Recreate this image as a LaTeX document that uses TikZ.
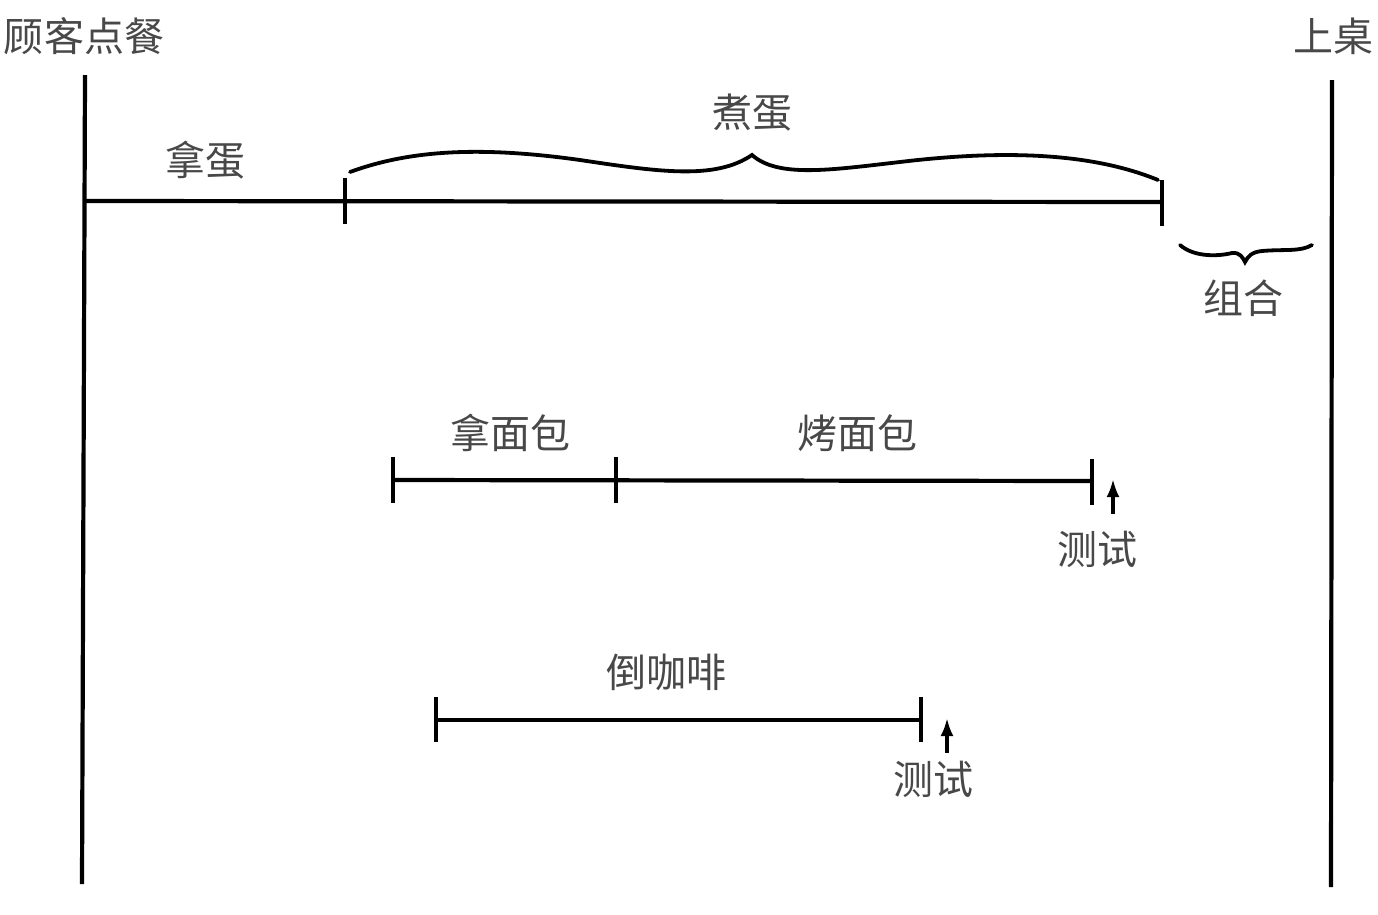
\documentclass[tikz,border=0pt]{standalone}
\usepackage{fontspec}
\newfontfamily\cjk{Noto Sans CJK SC}
\usetikzlibrary{arrows.meta}
\definecolor{txtgray}{HTML}{484848}
\tikzset{
  lbl/.style={font=\cjk\fontsize{40}{44}\selectfont, text=txtgray, inner sep=0pt},
  bar/.style={line width=4.2pt, black},
  tickmark/.style={line width=4.2pt, black},
  bracecurve/.style={line width=3.8pt, black, line cap=round},
  testarrow/.style={line width=3.4pt, -{Latex[length=18pt,width=13pt]}},
}
\begin{document}
\begin{tikzpicture}[x=1pt,y=-1pt]
\useasboundingbox (0,0) rectangle (1378,914);
% vertical boundaries
\coordinate (L1) at (85,75); \coordinate (L2) at (82,884);
\coordinate (R1) at (1332,80); \coordinate (R2) at (1331,887);
\draw[bar] (L1) -- (L2);
\draw[bar] (R1) -- (R2);
\node[lbl] (order) at (84,36) {顾客点餐};
\node[lbl] (serve) at (1333,36) {上桌};
% egg line
\coordinate (E0) at (85,201);
\coordinate (E1) at (345,201);
\coordinate (E2) at (1162,202);
\draw[bar] (E0) -- (E2);
\draw[tickmark] (345,178) -- (345,224);
\draw[tickmark] (1162,180) -- (1162,226);
\node[lbl] (getegg) at (205,160) {拿蛋};
\node[lbl] (cookegg) at (752,113) {煮蛋};
% brace over cook egg
\draw[bracecurve] (350,172) .. controls (410,150) and (480,146) .. (580,160)
  .. controls (660,172) and (715,180) .. (752,155)
  .. controls (778,178) and (830,170) .. (900,162)
  .. controls (1000,150) and (1090,152) .. (1158,180);
% combine brace
\draw[bracecurve] (1180,245) .. controls (1195,258) and (1220,256) .. (1232,253)
  .. controls (1240,252) and (1243,258) .. (1245,262)
  .. controls (1248,256) and (1252,252) .. (1262,251)
  .. controls (1285,249) and (1300,252) .. (1312,245);
\node[lbl] (combine) at (1243,298) {组合};
% bread line
\coordinate (B0) at (393,480);
\coordinate (B1) at (616,480);
\coordinate (B2) at (1092,481);
\draw[bar] (B0) -- (B2);
\draw[tickmark] (393,457) -- (393,503);
\draw[tickmark] (616,457) -- (616,503);
\draw[tickmark] (1092,459) -- (1092,505);
\node[lbl] (getbread) at (510,433) {拿面包};
\node[lbl] (toast) at (857,433) {烤面包};
\coordinate (A1s) at (1113,514);
\coordinate (A1e) at (1113,479);
\draw[testarrow] (A1s) -- (A1e);
\node[lbl] (test1) at (1097,549) {测试};
% coffee line
\coordinate (C0) at (436,720);
\coordinate (C1) at (921,720);
\draw[bar] (C0) -- (C1);
\draw[tickmark] (436,697) -- (436,742);
\draw[tickmark] (921,697) -- (921,742);
\node[lbl] (coffee) at (666,672) {倒咖啡};
\coordinate (A2s) at (947,753);
\coordinate (A2e) at (947,718);
\draw[testarrow] (A2s) -- (A2e);
\node[lbl] (test2) at (933,779) {测试};
\end{tikzpicture}
\end{document}
